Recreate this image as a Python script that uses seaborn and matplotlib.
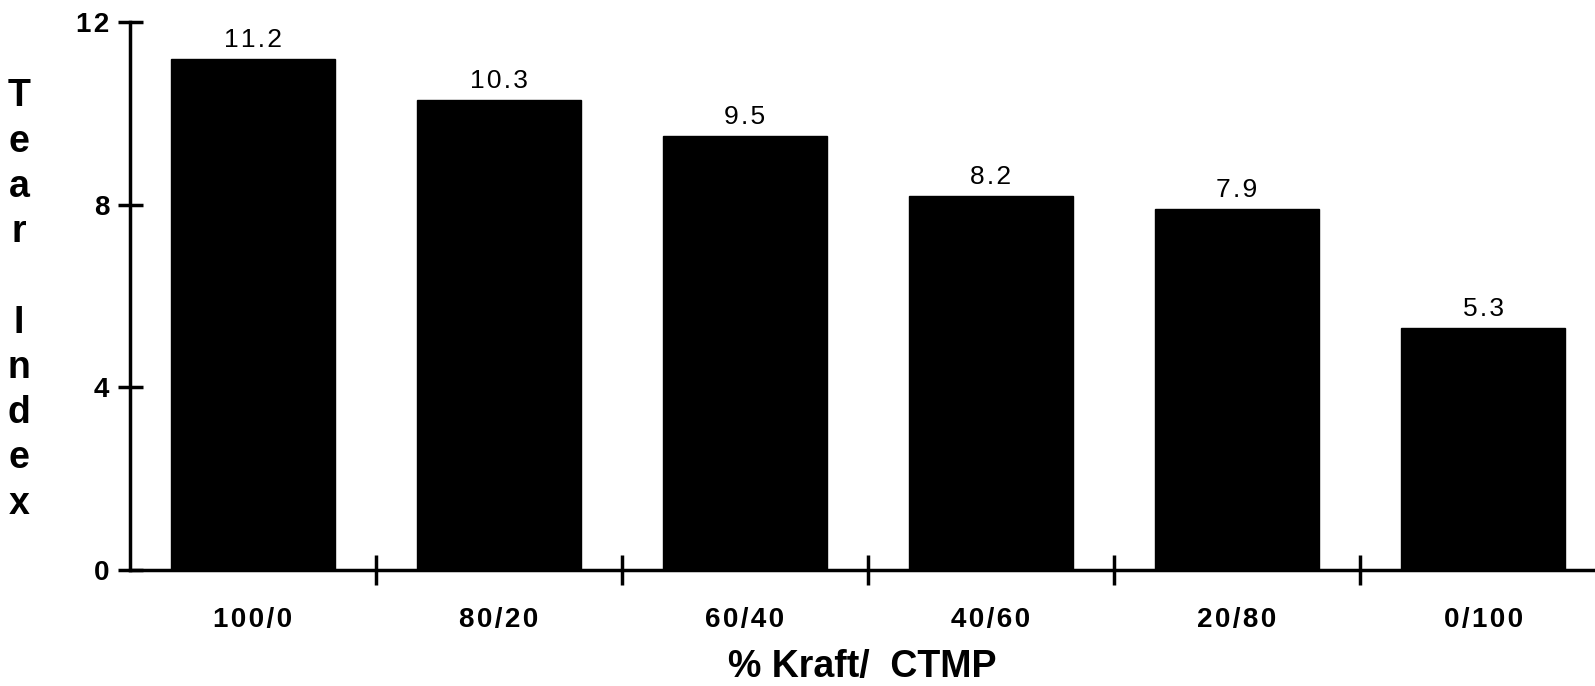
import matplotlib
matplotlib.use('Agg')
import matplotlib.pyplot as plt
import seaborn as sns
import pandas as pd
from matplotlib.ticker import FixedLocator

blends = ['100/0', '80/20', '60/40', '40/60', '20/80', '0/100']
tear_index = [11.2, 10.3, 9.5, 8.2, 7.9, 5.3]
value_labels = ['11.2', '10.3', '9.5', '8.2', '7.9', '5.3']
y_ticks = [0, 4, 8, 12]

sns.set_style('white')
plt.rcParams['font.family'] = ['Liberation Sans', 'DejaVu Sans']
for k in ['text.color', 'axes.labelcolor', 'xtick.color', 'ytick.color']:
    plt.rcParams[k] = 'black'

df = pd.DataFrame({'blend': blends, 'tear': tear_index})

fig = plt.figure(figsize=(15.95, 6.86), dpi=100)
ax = fig.add_axes([130 / 1595, 1 - 570 / 686, 1 - 130 / 1595, (570 - 22) / 686])

sns.barplot(data=df, x='blend', y='tear', color='black', width=0.67,
            saturation=1, ax=ax)
for p in ax.patches:
    p.set_facecolor('black')
    p.set_edgecolor('black')

ax.set_xlim(-0.5, 5.455)
ax.set_ylim(0, 12)

hair = '\u200a'
for i, (v, lab) in enumerate(zip(tear_index, value_labels)):
    ax.annotate(hair.join(lab), (i, v), xytext=(0, 5), textcoords='offset points',
                ha='center', va='bottom', fontsize=19)

sns.despine(ax=ax, top=True, right=True)
for s in ['left', 'bottom']:
    ax.spines[s].set_linewidth(2.5)
    ax.spines[s].set_color('black')

ax.set_yticks(y_ticks)
ax.set_yticklabels([hair.join(str(t)) for t in y_ticks], fontsize=20, fontweight='bold')
ax.tick_params(axis='y', direction='inout', length=18, width=2.5, pad=6,
               left=True)

ax.set_xticks(range(len(blends)))
ax.set_xticklabels([hair.join(b) for b in blends], fontsize=20, fontweight='bold')
ax.tick_params(axis='x', which='major', length=0, pad=27)
ax.xaxis.set_minor_locator(FixedLocator([0.5, 1.5, 2.5, 3.5, 4.5]))
ax.tick_params(axis='x', which='minor', direction='inout', length=22, width=2.5,
               bottom=True)

ax.set_xlabel('% Kraft/  CTMP', fontsize=27, fontweight='bold', labelpad=11)
ax.set_ylabel('')

fig.text(19 / 1595, 1 - 300 / 686, 'T\ne\na\nr\n\nI\nn\nd\ne\nx',
         ha='center', va='center', fontsize=27, fontweight='bold',
         linespacing=1.33)

fig.savefig('out.png', dpi=100)
